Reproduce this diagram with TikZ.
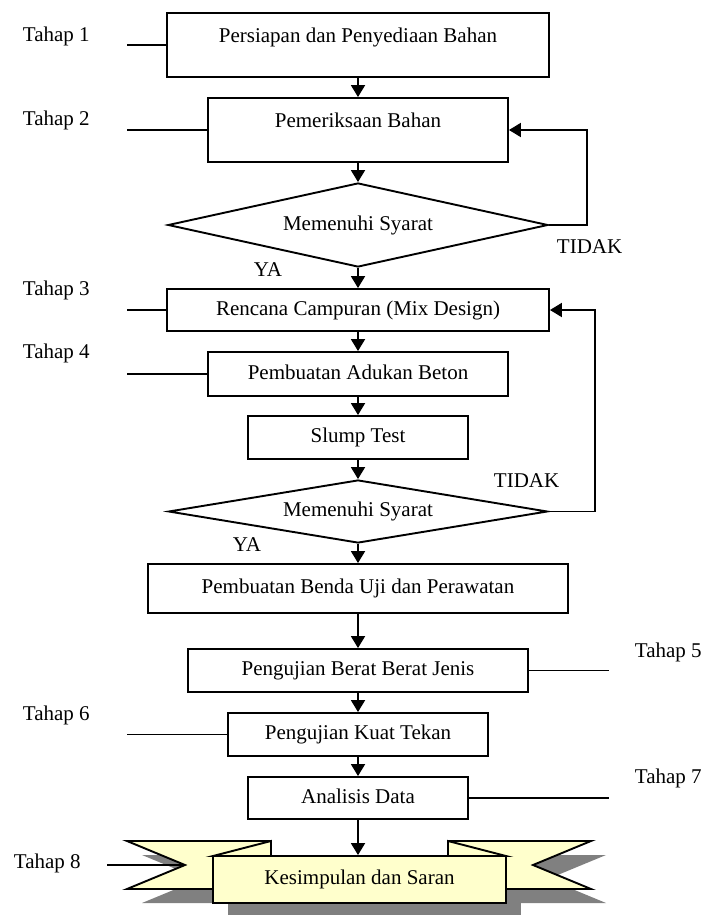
\documentclass[tikz,border=0pt]{standalone}
\usepackage{fontspec}
\setmainfont{Liberation Serif}
\usetikzlibrary{positioning,arrows.meta,shapes.geometric}

\definecolor{kuning}{HTML}{FFFFCC}
\definecolor{bayang}{HTML}{808080}

\begin{document}
\begin{tikzpicture}[
  x=1pt, y=-1pt,
  font=\fontsize{21}{25}\selectfont,
  line width=1.9pt,
  >={Triangle[length=12pt,width=14pt]},
  box/.style={draw, rectangle, inner sep=0pt, text height=15pt, text depth=5pt},
  topbox/.style={box, text height=30pt, text depth=34pt},
  cek/.style={draw, diamond, aspect=4.5, inner sep=0pt,
              text height=15pt, text depth=5pt},
  tahap/.style={anchor=west, inner sep=0pt, text height=15pt, text depth=5pt},
  flow/.style={->},
  pita/.style={draw, fill=kuning, line join=miter},
  bayangan/.style={fill=bayang, shift={(15,14)}},
]
\useasboundingbox (0,0) rectangle (707,915);

% tahap labels
\node[tahap] (th1) at (22,37)   {Tahap 1};
\node[tahap] (th2) at (22,121)  {Tahap 2};
\node[tahap] (th3) at (22,290)  {Tahap 3};
\node[tahap] (th4) at (22,353)  {Tahap 4};
\node[tahap] (th5) at (634,652) {Tahap 5};
\node[tahap] (th6) at (22,715)  {Tahap 6};
\node[tahap] (th7) at (634,778) {Tahap 7};
\node[tahap] (th8) at (13,863)  {Tahap 8};

% main flow
\node[topbox, minimum width=382pt, minimum height=64pt]
  (persiapan) at (358,45) {Persiapan dan Penyediaan Bahan};
\node[topbox, minimum width=300pt, minimum height=64pt]
  (periksa) at (358,130) {Pemeriksaan Bahan};
\node[cek, minimum width=380pt, minimum height=84pt]
  (syarat1) at (358,225) {Memenuhi Syarat};
\node[box, minimum width=382pt, minimum height=42pt]
  (rencana) at (358,310) {Rencana Campuran (Mix Design)};
\node[box, minimum width=300pt, minimum height=44pt]
  (adukan) at (358,374) {Pembuatan Adukan Beton};
\node[box, minimum width=220pt, minimum height=43pt]
  (slump) at (358,437.5) {Slump Test};
\node[cek, minimum width=379pt, minimum height=63pt]
  (syarat2) at (358,511.5) {Memenuhi Syarat};
\node[box, minimum width=420pt, minimum height=49pt]
  (bendauji) at (358,588.5) {Pembuatan Benda Uji dan Perawatan};
\node[box, minimum width=340pt, minimum height=43pt]
  (beratjenis) at (358,670.5) {Pengujian Berat Berat Jenis};
\node[box, minimum width=260pt, minimum height=43pt]
  (kuattekan) at (358,734.5) {Pengujian Kuat Tekan};
\node[box, minimum width=220pt, minimum height=42pt]
  (analisis) at (358,798) {Analisis Data};

% decision labels
\node[tahap] (ya1)    at (253,271) {YA};
\node[tahap] (tidak1) at (556,248) {TIDAK};
\node[tahap] (ya2)    at (232,546) {YA};
\node[tahap] (tidak2) at (493,482) {TIDAK};

% banner (shadow first)
\coordinate (takik) at (185,865);
\fill[bayangan] (127,841) -- (271,841) -- (271,889) -- (127,889) -- (185,865) -- cycle;
\fill[bayangan] (591,841) -- (448,841) -- (448,889) -- (591,889) -- (533,865) -- cycle;
\fill[bayangan] (213,856) rectangle (506,903);
\draw[pita] (127,841) -- (271,841) -- (271,889) -- (127,889) -- (takik) -- cycle;
\draw[pita] (591,841) -- (448,841) -- (448,889) -- (591,889) -- (533,865) -- cycle;
\draw[pita] (213,856) -- (271,841) -- (271,856) -- cycle;
\draw[pita] (506,856) -- (448,841) -- (448,856) -- cycle;
\node[box, fill=kuning, minimum width=293pt, minimum height=47pt]
  (hasil) at (359.5,879.5) {Kesimpulan dan Saran};

% arrows
\draw[flow] (persiapan) -- (periksa);
\draw[flow] (periksa)   -- (syarat1);
\draw[flow] (syarat1)   -- (rencana);
\draw[flow] (rencana)   -- (adukan);
\draw[flow] (adukan)    -- (slump);
\draw[flow] (slump)     -- (syarat2);
\draw[flow] (syarat2)   -- (bendauji);
\draw[flow] (bendauji)  -- (beratjenis);
\draw[flow] (beratjenis) -- (kuattekan);
\draw[flow] (kuattekan) -- (analisis);
\draw[flow] (analisis.south) -- (analisis.south |- hasil.north);

% TIDAK loops
\coordinate (balik1) at (587,130);
\coordinate (balik2) at (595,310);
\draw[flow] (syarat1.east) -| (balik1) -- (periksa.east);
\draw[flow] (syarat2.east) -| (balik2) -- (rencana.east);

% tahap leaders
\coordinate (g1) at (127,45);
\coordinate (g2) at (127,130);
\coordinate (g3) at (127,310);
\coordinate (g4) at (127,374);
\coordinate (g5) at (609,670.5);
\coordinate (g6) at (127,734.5);
\coordinate (g7) at (609,798);
\coordinate (g8) at (107,865);
\draw (g1) -- (persiapan.west);
\draw (g2) -- (periksa.west);
\draw (g3) -- (rencana.west);
\draw (g4) -- (adukan.west);
\draw (beratjenis.east) -- (g5);
\draw (g6) -- (kuattekan.west);
\draw (analisis.east) -- (g7);
\draw (g8) -- (takik);

\end{tikzpicture}
\end{document}
